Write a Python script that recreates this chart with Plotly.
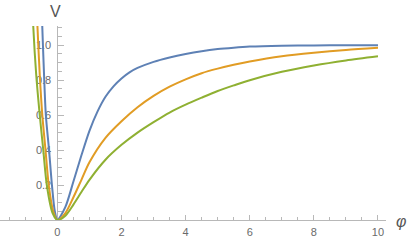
import plotly.graph_objects as go

phi_blue = [-0.53, -0.47, -0.42, -0.36, -0.26, -0.17, -0.08, 0.0, 0.25, 0.5, 0.75, 1.0, 1.25, 1.5, 1.75, 2.0, 2.25, 2.5, 3.0, 3.5, 4.0, 4.5, 5.0, 5.5, 6.0, 7.0, 8.0, 9.0, 10.0]
v_blue = [1.45, 1.1, 0.85, 0.6, 0.4, 0.2, 0.05, 0.0, 0.075, 0.22, 0.37, 0.51, 0.62, 0.705, 0.765, 0.81, 0.845, 0.87, 0.905, 0.93, 0.95, 0.966, 0.978, 0.986, 0.992, 0.997, 0.999, 1.0, 1.0]

phi_orange = [-0.7, -0.62, -0.55, -0.47, -0.37, -0.27, -0.13, 0.0, 0.25, 0.5, 0.75, 1.0, 1.5, 2.0, 2.5, 3.0, 3.5, 4.0, 4.5, 5.0, 5.5, 6.0, 7.0, 8.0, 9.0, 10.0]
v_orange = [1.45, 1.1, 0.83, 0.6, 0.4, 0.2, 0.05, 0.0, 0.04, 0.13, 0.23, 0.33, 0.47, 0.565, 0.645, 0.71, 0.763, 0.805, 0.84, 0.866, 0.888, 0.907, 0.937, 0.957, 0.973, 0.985]

phi_green = [-0.82, -0.75, -0.66, -0.55, -0.44, -0.33, -0.15, 0.0, 0.25, 0.5, 0.75, 1.0, 1.5, 2.0, 2.5, 3.0, 3.5, 4.0, 4.5, 5.0, 5.5, 6.0, 7.0, 8.0, 9.0, 10.0]
v_green = [1.45, 1.1, 0.83, 0.6, 0.4, 0.2, 0.04, 0.0, 0.025, 0.088, 0.16, 0.23, 0.345, 0.43, 0.50, 0.56, 0.615, 0.66, 0.70, 0.738, 0.77, 0.80, 0.848, 0.884, 0.913, 0.937]

x_ticks = [0, 2, 4, 6, 8, 10]
y_ticks = [0.2, 0.4, 0.6, 0.8, 1.0]

colors = ["#5E81B5", "#E19C24", "#8FB032"]

fig = go.Figure()
for xs, ys, c in [(phi_blue, v_blue, colors[0]), (phi_orange, v_orange, colors[1]), (phi_green, v_green, colors[2])]:
    fig.add_trace(go.Scatter(x=xs, y=ys, mode="lines", line=dict(color=c, width=2, shape="spline", smoothing=0.8),
                             showlegend=False, hoverinfo="skip"))

x0, x1 = -1.79, 10.25
axis_col = "#b8b8b8"
fig.update_layout(
    width=409, height=240,
    margin=dict(l=0, r=23, t=26, b=20, autoexpand=False),
    paper_bgcolor="white", plot_bgcolor="white",
    font=dict(family="Liberation Sans, Arial, sans-serif", size=11, color="#6a6a6a"),
    xaxis=dict(range=[x0, x1], showgrid=False, zeroline=False, showline=True, linecolor=axis_col, linewidth=1,
               tickvals=x_ticks, ticks="inside", ticklen=5, tickcolor=axis_col, ticklabelstandoff=2,
               minor=dict(dtick=0.5, tick0=0, ticks="inside", ticklen=3, tickcolor=axis_col),
               layer="below traces"),
    yaxis=dict(range=[0, 1.11], showgrid=False, zeroline=False, showline=True, linecolor=axis_col, linewidth=1,
               anchor="free", position=(0 - x0) / (x1 - x0),
               tickvals=y_ticks, tickformat=".1f", ticks="inside", ticklen=6, tickcolor=axis_col, ticklabelstandoff=4,
               minor=dict(dtick=0.05, tick0=0, ticks="inside", ticklen=3.5, tickcolor=axis_col),
               layer="below traces"),
    annotations=[
        dict(x=56 / 386, y=(220.25 - 11) / 194.25, xref="paper", yref="paper", text="V", showarrow=False,
             xanchor="center", yanchor="middle", font=dict(size=16, color="#555555")),
        dict(x=401.5 / 386, y=(220.25 - 222) / 194.25, xref="paper", yref="paper", text="<i>φ</i>", showarrow=False,
             xanchor="center", yanchor="middle", font=dict(size=16, color="#555555")),
    ],
)
fig.write_html("out.html", config={"displayModeBar": False},
               post_script="document.body.style.margin='0px';document.body.style.overflow='hidden';")
